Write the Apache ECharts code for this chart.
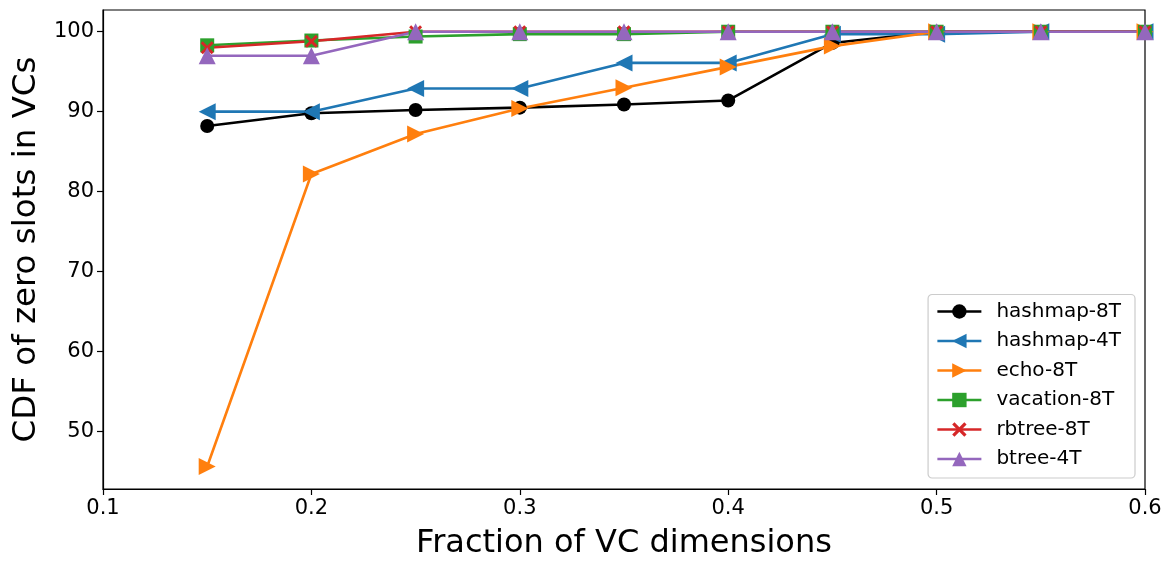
<!DOCTYPE html>
<html>
<head>
<meta charset="utf-8">
<script src="https://cdn.jsdelivr.net/npm/echarts@6/dist/echarts.min.js"></script>
<style>
  html, body { margin: 0; padding: 0; background: #fff; }
  #chart { width: 1167px; height: 561px; }
</style>
</head>
<body>
<div id="chart"></div>
<script>
// Fraction of VC dimensions (x positions shared by every series)
const fractions = [0.15, 0.2, 0.25, 0.3, 0.35, 0.4, 0.45, 0.5, 0.55, 0.6];

// CDF of zero slots in VCs, per workload
const hashmap8T  = [88.2, 89.8, 90.2, 90.5, 90.9, 91.4, 98.6, 100, 100, 100];
const hashmap4T  = [90.0, 90.0, 92.9, 92.9, 96.1, 96.1, 99.7, 99.7, 100, 100];
const echo8T     = [45.6, 82.2, 87.2, 90.4, 93.0, 95.6, 98.2, 100, 100, 100];
const vacation8T = [98.3, 98.9, 99.4, 99.7, 99.7, 100, 100, 100, 100, 100];
const rbtree8T   = [98.0, 98.8, 100, 100, 100, 100, 100, 100, 100, 100];
const btree4T    = [97.0, 97.0, 100, 100, 100, 100, 100, 100, 100, 100];

const xTicks = [0.1, 0.2, 0.3, 0.4, 0.5, 0.6];
const yTicks = [50, 60, 70, 80, 90, 100];

const FONT = 'DejaVu Sans';
const crossPath = 'path://M1.6,0 L5,3.4 L8.4,0 L10,1.6 L6.6,5 L10,8.4 L8.4,10 L5,6.6 L1.6,10 L0,8.4 L3.4,5 L0,1.6 Z';

function pts(values) {
  return fractions.map((x, i) => [x, values[i]]);
}

function makeSeries(name, values, color, symbol, size, rotate) {
  return {
    name: name,
    type: 'line',
    data: pts(values),
    symbol: symbol,
    symbolSize: size,
    symbolRotate: rotate || 0,
    showAllSymbol: true,
    lineStyle: { color: color, width: 2.6 },
    itemStyle: { color: color, borderWidth: 0 },
    emphasis: { disabled: true },
    animation: false
  };
}

const chart = echarts.init(document.getElementById('chart'), null, { renderer: 'canvas' });

chart.setOption({
  backgroundColor: '#ffffff',
  animation: false,
  grid: {
    left: 103, right: 22, top: 10, bottom: 72,
    outerBoundsMode: 'none',
    containLabel: false,
    show: true, borderColor: '#000', borderWidth: 1.2, backgroundColor: 'transparent'
  },
  xAxis: {
    type: 'value',
    min: 0.1, max: 0.6,
    name: 'Fraction of VC dimensions',
    nameLocation: 'middle',
    nameGap: 39,
    nameTextStyle: { fontFamily: FONT, fontSize: 32, color: '#000', verticalAlign: 'top' },
    axisLine: { show: true, lineStyle: { color: '#000', width: 1.2 } },
    axisTick: { show: true, length: 6, customValues: xTicks, lineStyle: { color: '#000', width: 1.2 } },
    axisLabel: {
      customValues: xTicks, margin: 9,
      fontFamily: FONT, fontSize: 21, color: '#000',
      formatter: v => v.toFixed(1)
    },
    splitLine: { show: false }
  },
  yAxis: {
    type: 'value',
    min: 42.78, max: 102.72,
    name: 'CDF of zero slots in VCs',
    nameLocation: 'middle',
    nameGap: 56,
    nameTextStyle: { fontFamily: FONT, fontSize: 32.5, color: '#000' },
    axisLine: { show: true, lineStyle: { color: '#000', width: 1.2 } },
    axisTick: { show: true, length: 6, customValues: yTicks, lineStyle: { color: '#000', width: 1.2 } },
    axisLabel: {
      customValues: yTicks, margin: 9,
      fontFamily: FONT, fontSize: 21, color: '#000',
      formatter: v => String(Math.round(v))
    },
    splitLine: { show: false }
  },
  legend: {
    orient: 'vertical',
    right: 32, bottom: 83,
    padding: [6, 14, 8, 8],
    itemWidth: 44, itemHeight: 18, itemGap: 7.5,
    backgroundColor: 'rgba(255,255,255,0.8)',
    borderColor: '#cccccc', borderWidth: 1.2, borderRadius: 4,
    lineStyle: { width: 2.6 },
    textStyle: { fontFamily: FONT, fontSize: 20, color: '#000', lineHeight: 22, padding: [0, 0, 0, 10] },
    data: ['hashmap-8T', 'hashmap-4T', 'echo-8T', 'vacation-8T', 'rbtree-8T', 'btree-4T']
  },
  series: [
    makeSeries('hashmap-8T', hashmap8T, '#000000', 'circle', 14),
    makeSeries('hashmap-4T', hashmap4T, '#1f77b4', 'triangle', 17, 90),
    makeSeries('echo-8T', echo8T, '#ff7f0e', 'triangle', 17, -90),
    makeSeries('vacation-8T', vacation8T, '#2ca02c', 'rect', 14),
    makeSeries('rbtree-8T', rbtree8T, '#d62728', crossPath, 13),
    makeSeries('btree-4T', btree4T, '#9467bd', 'triangle', 17)
  ]
});
</script>
</body>
</html>
